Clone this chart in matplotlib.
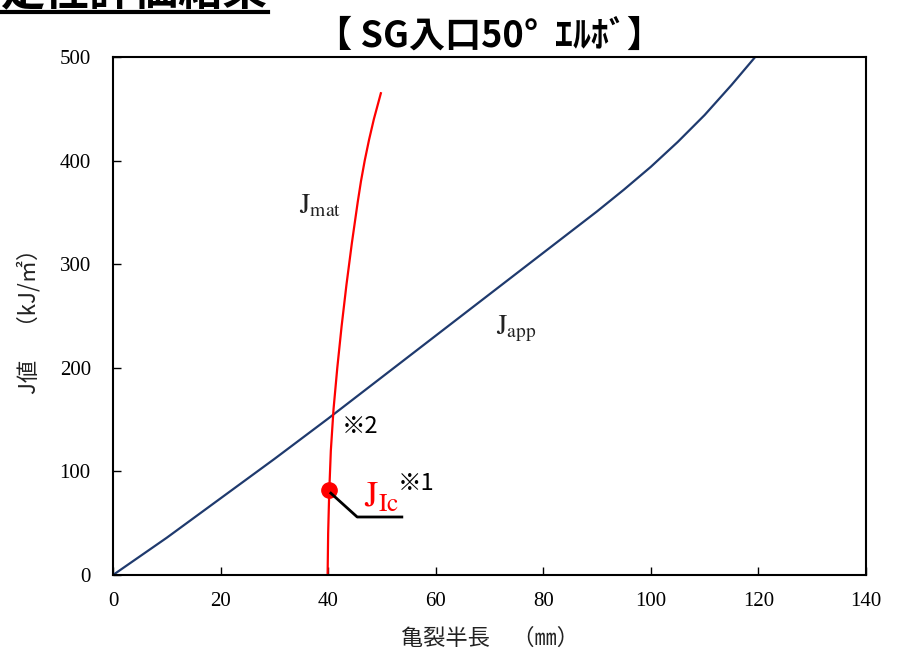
import matplotlib.pyplot as plt
from matplotlib.lines import Line2D

plt.rcParams['font.family'] = ['Noto Sans CJK JP', 'DejaVu Sans']
plt.rcParams['mathtext.fontset'] = 'stix'

# J_app curve (applied J-integral)
japp_x = [0, 10, 20, 30, 40, 50, 60, 70, 80, 90, 95, 100, 105, 110, 115, 119.4]
japp_y = [0, 36, 74, 112, 151, 191, 231, 271, 311, 351, 372, 394, 418, 444, 473, 500]

# J_mat curve (material resistance)
jmat_x = [39.9, 40.0, 40.2, 40.5, 41.0, 41.7, 42.5, 43.4, 44.4, 45.5, 46.1, 46.8, 47.6, 48.5, 49.8]
jmat_y = [0, 40, 80, 120, 160, 200, 240, 280, 320, 360, 380, 400, 420, 440, 465]

# J_Ic point
jic_x = 40.2
jic_y = 82

x_ticks = [0, 20, 40, 60, 80, 100, 120, 140]
y_ticks = [0, 100, 200, 300, 400, 500]

fig = plt.figure(figsize=(8.99, 6.68), dpi=100)
ax = fig.add_axes([0.1257, 0.1392, 0.8376, 0.7755])

ax.plot(japp_x, japp_y, color='#1f3a6e', lw=1.6)
ax.plot(jmat_x, jmat_y, color='#ff0000', lw=1.6)
ax.plot([jic_x], [jic_y], 'o', color='#ff0000', markersize=11)

# leader line from J_Ic point
ax.plot([jic_x + 0.3, 45.4, 53.7], [jic_y - 3, 56, 56], color='black', lw=2)

ax.set_xlim(0, 140)
ax.set_ylim(0, 500)
ax.set_xticks(x_ticks)
ax.set_yticks(y_ticks)
ax.tick_params(axis='x', direction='in', length=6, width=1, top=False, pad=12)
ax.tick_params(axis='y', direction='in', length=6, width=1, right=False, pad=16)
for lab in ax.get_xticklabels() + ax.get_yticklabels():
    lab.set_family('Liberation Serif')
    lab.set_fontsize(15)
for sp in ax.spines.values():
    sp.set_linewidth(1.5)

ax.set_xlabel('亀裂半長　（㎜）', fontsize=16, color='#222222', labelpad=12)
ax.set_ylabel('J値　（kJ/㎡）', fontsize=16, color='#222222', labelpad=14)

ax.text(34.5, 357, r'$\mathrm{J_{mat}}$', fontsize=20, color='#222222', ha='left', va='center')
ax.text(71.2, 238, r'$\mathrm{J_{app}}$', fontsize=20, color='#222222', ha='left', va='center')
ax.text(46.6, 58, r'$\mathrm{J_{Ic}}$', fontsize=26, color='#ff0000', ha='left', va='bottom')
ax.text(42.5, 143, '※2', fontsize=17, color='black', ha='left', va='center')
ax.text(53.0, 88, '※1', fontsize=17, color='black', ha='left', va='center')

fig.text(0.545, 0.946, '【 SG入口50°  ｴﾙﾎﾞ】', fontsize=26, fontweight='bold',
         ha='center', va='center')

# partially visible page heading at top-left
fig.text(0.0, 0.994, '定性評価結果', fontsize=32, fontweight='bold', ha='left', va='baseline')
fig.add_artist(Line2D([0.0, 0.298], [0.982, 0.982], transform=fig.transFigure,
                      color='black', lw=3))

fig.savefig('out.png', dpi=100, facecolor='white')
